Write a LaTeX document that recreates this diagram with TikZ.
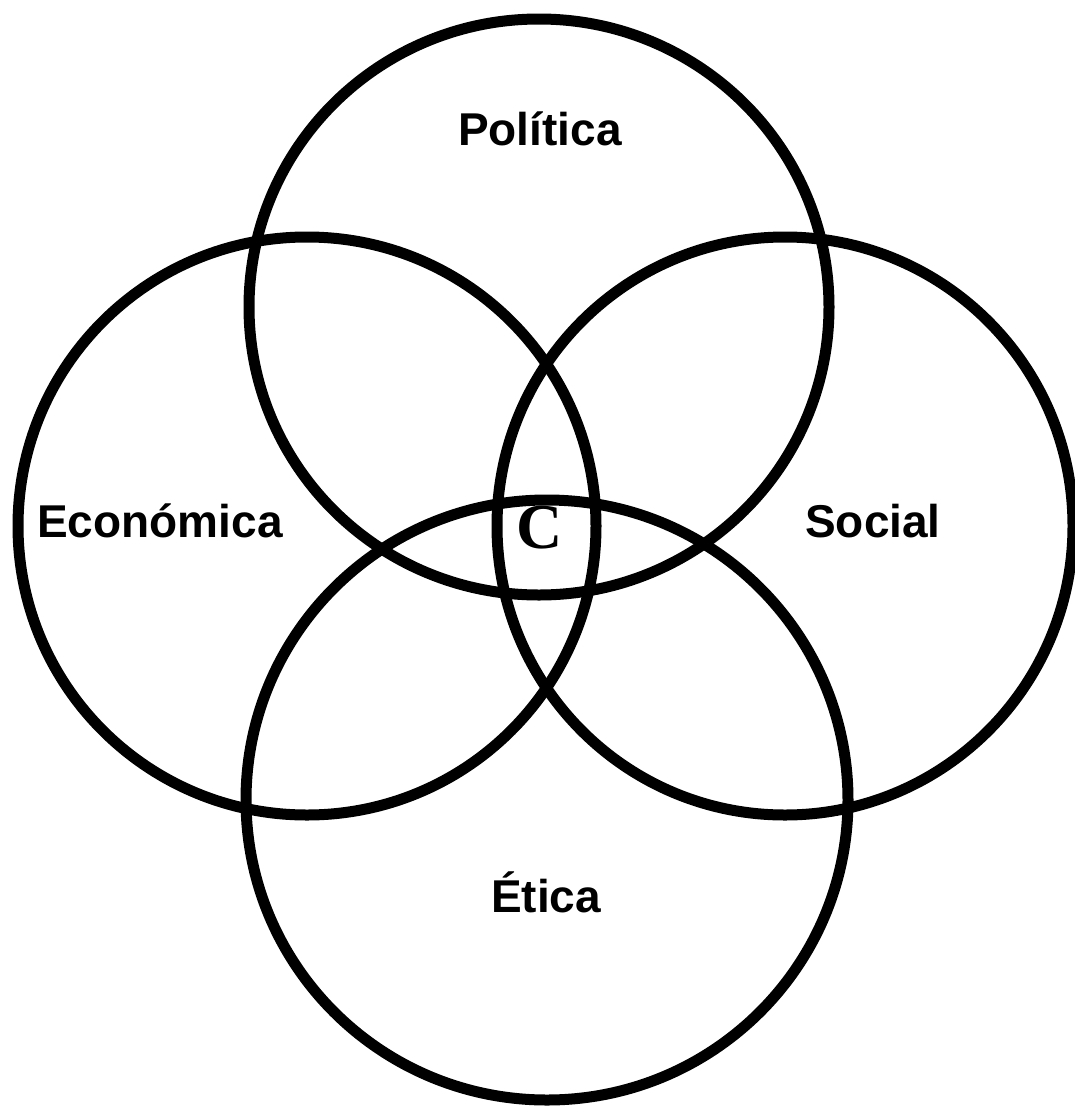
\documentclass[tikz,border=0pt]{standalone}
\usepackage{fontspec}
\setmainfont{Liberation Sans}
\newfontfamily\serifc{Liberation Serif}
\begin{document}
\begin{tikzpicture}[x=1pt,y=-1pt,
  ring/.style={draw=black,line width=11pt},
  lbl/.style={font=\fontsize{46}{46}\selectfont\bfseries,anchor=base,inner sep=0pt},
  clbl/.style={font=\fontsize{64}{64}\selectfont\serifc\bfseries,anchor=base,inner sep=0pt}]
\useasboundingbox (0,0) rectangle (1075,1106);
\draw[ring] (539,307) ellipse [x radius=290, y radius=288];
\draw[ring] (307,526) ellipse [x radius=289, y radius=289];
\draw[ring] (785,526) ellipse [x radius=288, y radius=289];
\draw[ring] (547,800) ellipse [x radius=301, y radius=300];
\node[lbl] (pol) at (540,145) {Política};
\node[lbl] (eco) at (160,537) {Económica};
\node[lbl] (soc) at (873,537) {Social};
\node[lbl] (eti) at (546,912) {Ética};
\node[clbl] (c) at (540,548) {C};
\end{tikzpicture}
\end{document}
